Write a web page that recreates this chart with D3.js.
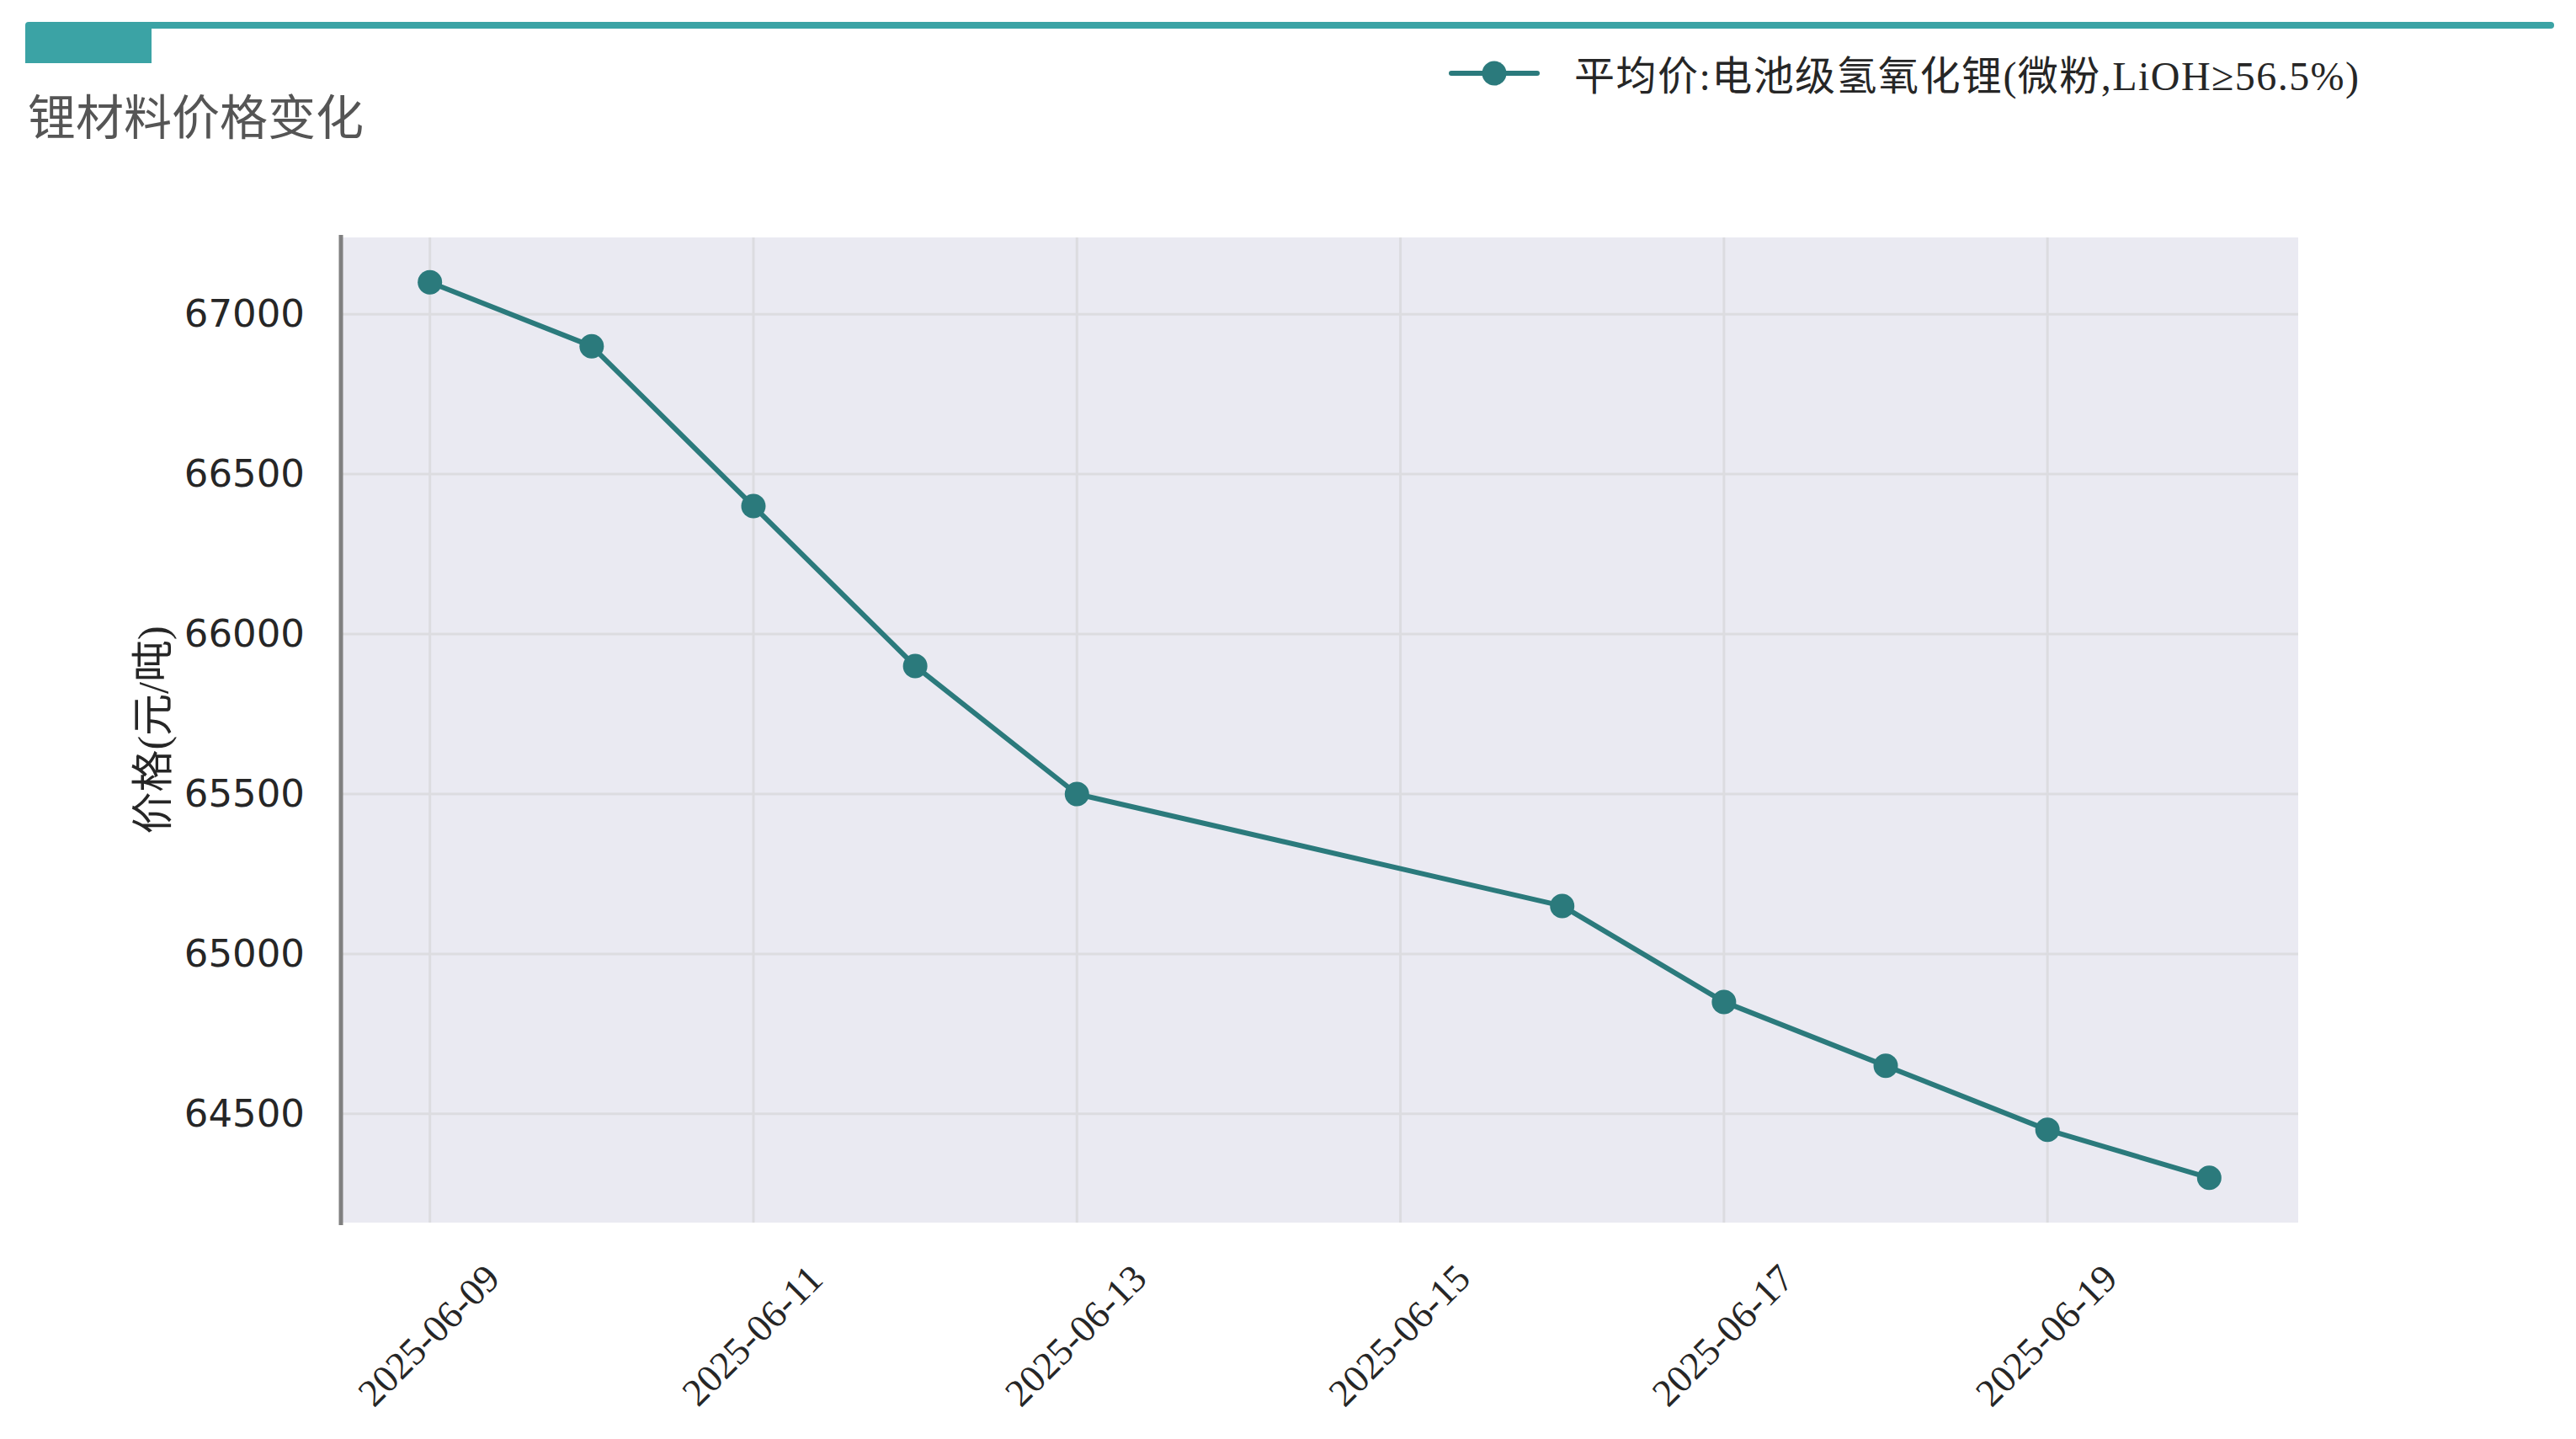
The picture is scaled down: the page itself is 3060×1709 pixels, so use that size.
<!DOCTYPE html>
<html>
<head>
<meta charset="utf-8">
<script src="https://cdn.jsdelivr.net/npm/d3@7"></script>
<style>
  html, body { margin: 0; padding: 0; background: #ffffff; }
  svg { display: block; }
</style>
</head>
<body>
<svg id="chart" width="3060" height="1709"></svg>
<script>
// ---- data ----
const dates = ["2025-06-09", "2025-06-10", "2025-06-11", "2025-06-12", "2025-06-13",
               "2025-06-16", "2025-06-17", "2025-06-18", "2025-06-19", "2025-06-20"];
const prices = [67100, 66900, 66400, 65900, 65500, 65150, 64850, 64650, 64450, 64300];
const yTicks = [64500, 65000, 65500, 66000, 66500, 67000];
const title = "锂材料价格变化";
const seriesName = "平均价:电池级氢氧化锂(微粉,LiOH≥56.5%)";
const yLabel = "价格(元/吨)";

// ---- layout ----
const W = 3060, H = 1709;
const plot = { left: 405, right: 2730, top: 282, bottom: 1452 };
const teal = "#3ba3a5";
const lineColor = "#2b7a7c";
const serifFont = "'Liberation Serif', 'Noto Sans CJK SC', serif";

const parse = d3.timeParse("%Y-%m-%d");
const data = dates.map((d, i) => ({ date: parse(d), value: prices[i] }));

const svg = d3.select("#chart");

// header decoration
svg.append("rect").attr("x", 30).attr("y", 26).attr("width", 3004).attr("height", 8)
  .attr("rx", 4).attr("fill", teal);
svg.append("rect").attr("x", 30).attr("y", 30).attr("width", 150).attr("height", 45)
  .attr("fill", teal);

svg.append("text")
  .attr("x", 33).attr("y", 135)
  .attr("dominant-baseline", "central")
  .attr("font-family", "'Noto Sans CJK SC', sans-serif")
  .attr("font-size", 57)
  .attr("fill", "#555555")
  .text(title);

// scales with 5% margins
const xExt = d3.extent(data, d => d.date);
const xSpan = xExt[1] - xExt[0];
const x = d3.scaleTime()
  .domain([new Date(+xExt[0] - xSpan * 0.05), new Date(+xExt[1] + xSpan * 0.05)])
  .range([plot.left, plot.right]);
const yExt = d3.extent(prices);
const ySpan = yExt[1] - yExt[0];
const y = d3.scaleLinear()
  .domain([yExt[0] - ySpan * 0.05, yExt[1] + ySpan * 0.05])
  .range([plot.bottom, plot.top]);

// background
svg.append("rect")
  .attr("x", plot.left).attr("y", plot.top)
  .attr("width", plot.right - plot.left).attr("height", plot.bottom - plot.top)
  .attr("fill", "#eaeaf2");

const xTickDates = d3.timeDay.every(2).range(xExt[0], new Date(+xExt[1] + 1));

// grid
const grid = svg.append("g");
grid.selectAll("line.h").data(yTicks).join("line")
  .attr("x1", plot.left).attr("x2", plot.right)
  .attr("y1", d => y(d)).attr("y2", d => y(d))
  .attr("stroke", "#dcdce0").attr("stroke-width", 3);
grid.selectAll("line.v").data(xTickDates).join("line")
  .attr("x1", d => x(d)).attr("x2", d => x(d))
  .attr("y1", plot.top).attr("y2", plot.bottom)
  .attr("stroke", "#dcdce0").attr("stroke-width", 3);

// y axis
const yAxis = d3.axisLeft(y).tickValues(yTicks).tickSize(0).tickPadding(43)
  .tickFormat(d3.format("d"));
const yg = svg.append("g").attr("transform", `translate(${plot.left},0)`).call(yAxis);
yg.select(".domain").remove();
yg.selectAll("text")
  .attr("font-family", "'DejaVu Sans', sans-serif")
  .attr("font-size", 45)
  .attr("fill", "#262626");
svg.append("line")
  .attr("x1", plot.left).attr("x2", plot.left)
  .attr("y1", plot.top - 3).attr("y2", plot.bottom + 3)
  .attr("stroke", "#808080").attr("stroke-width", 5);

// x axis
const xAxis = d3.axisBottom(x).tickValues(xTickDates).tickSize(0)
  .tickFormat(d3.timeFormat("%Y-%m-%d"));
const xg = svg.append("g").attr("transform", `translate(0,${plot.bottom})`).call(xAxis);
xg.select(".domain").remove();
xg.selectAll("text")
  .attr("font-family", serifFont)
  .attr("font-size", 46)
  .attr("fill", "#262626")
  .attr("text-anchor", "middle")
  .attr("dominant-baseline", "central")
  .attr("dy", null)
  .attr("y", 0)
  .attr("transform", "translate(-2,134) rotate(-45)");

// y label
svg.append("text")
  .attr("transform", `translate(182,${(plot.top + plot.bottom) / 2}) rotate(-90)`)
  .attr("text-anchor", "middle")
  .attr("dominant-baseline", "central")
  .attr("font-family", serifFont)
  .attr("font-size", 50)
  .attr("fill", "#262626")
  .text(yLabel);

// line + markers
const line = d3.line().x(d => x(d.date)).y(d => y(d.value));
svg.append("path").datum(data)
  .attr("d", line).attr("fill", "none")
  .attr("stroke", lineColor).attr("stroke-width", 6)
  .attr("stroke-linejoin", "round").attr("stroke-linecap", "round");
svg.append("g").selectAll("circle").data(data).join("circle")
  .attr("cx", d => x(d.date)).attr("cy", d => y(d.value))
  .attr("r", 14.5).attr("fill", lineColor);

// legend
const lg = svg.append("g");
lg.append("line").attr("x1", 1724).attr("x2", 1826).attr("y1", 87).attr("y2", 87)
  .attr("stroke", lineColor).attr("stroke-width", 6).attr("stroke-linecap", "round");
lg.append("circle").attr("cx", 1775).attr("cy", 87).attr("r", 14.5).attr("fill", lineColor);
lg.append("text")
  .attr("x", 1870).attr("y", 90)
  .attr("dominant-baseline", "central")
  .attr("font-family", serifFont)
  .attr("font-size", 48)
  .attr("textLength", 932)
  .attr("lengthAdjust", "spacing")
  .attr("fill", "#262626")
  .text(seriesName);
</script>
</body>
</html>
